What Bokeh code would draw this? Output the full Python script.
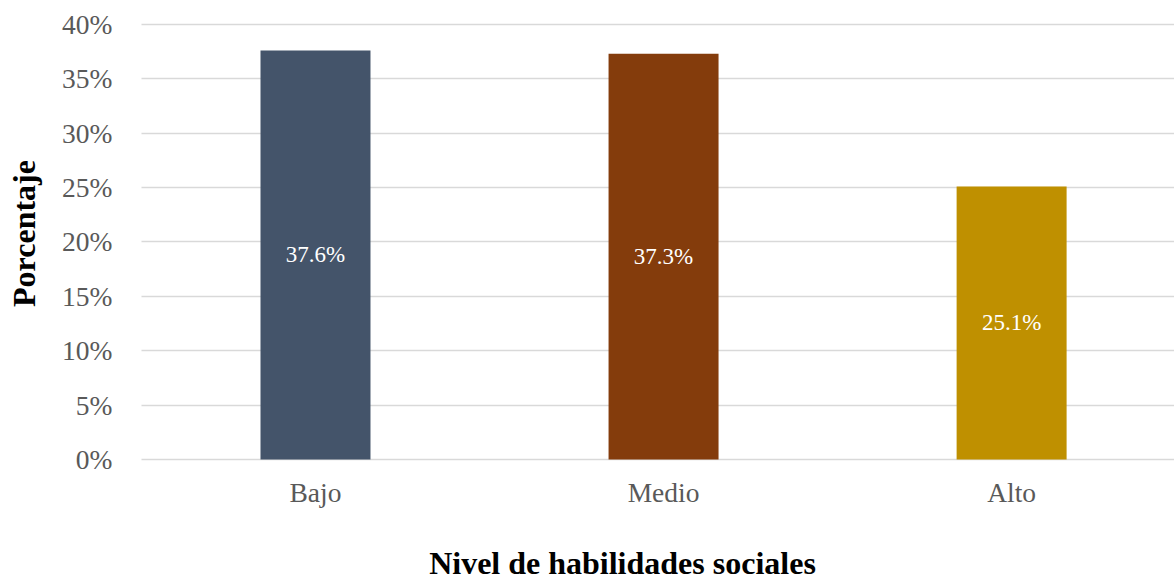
import math
from bokeh.plotting import figure
from bokeh.models import Range1d, FixedTicker, PrintfTickFormatter, Label, Grid, ColumnDataSource
from bokeh.core.properties import value
from bokeh.embed import file_html
from bokeh.resources import INLINE

categories = ["Bajo", "Medio", "Alto"]
percentages = [37.6, 37.3, 25.1]
colors = ["#44546A", "#843C0C", "#BF9000"]
labels = ["37.6%", "37.3%", "25.1%"]
y_ticks = [0, 5, 10, 15, 20, 25, 30, 35, 40]
x_title = "Nivel de habilidades sociales"
y_title = "Porcentaje"

FONT = "Liberation Serif"
X_END = 2.968

xpos = [i + 0.5 for i in range(len(categories))]
src = ColumnDataSource(dict(x=xpos, top=percentages, mid=[v / 2 for v in percentages],
                            color=colors, label=labels))

# the frame covers the whole canvas; axes are pinned at x=0 / y=0 inside it
p = figure(width=1174, height=579, output_backend="svg", toolbar_location=None,
           x_range=Range1d(-0.405, X_END), y_range=Range1d(-11.04, 42.2),
           min_border_left=0, min_border_right=0, min_border_top=0, min_border_bottom=0)
p.outline_line_color = None
p.background_fill_color = "white"
p.border_fill_color = "white"

# grid lines from the plot's left edge (x=0) to the right
p.xgrid.grid_line_color = None
if "cross_bounds" in Grid.properties():
    p.ygrid.cross_bounds = (0, X_END)
    p.ygrid.grid_line_color = "#D9D9D9"
    p.ygrid.grid_line_width = 1.5
else:
    p.ygrid.grid_line_color = None
    p.segment(x0=0, x1=X_END, y0=y_ticks, y1=y_ticks, line_color="#D9D9D9", line_width=1.5)

p.vbar(x="x", top="top", bottom=0, width=0.316, color="color", line_color=None, source=src)
p.text(x="x", y="mid", text="label", source=src, text_color="white",
       text_font=value(FONT), text_font_size="23px", text_align="center", text_baseline="middle")

# axes
p.xaxis.ticker = FixedTicker(ticks=xpos)
p.xaxis.major_label_overrides = {x: c for x, c in zip(xpos, categories)}
p.xaxis.fixed_location = 0
p.yaxis.ticker = FixedTicker(ticks=y_ticks)
p.yaxis.formatter = PrintfTickFormatter(format="%d%%")
p.yaxis.fixed_location = 0
for ax in (p.xaxis, p.yaxis):
    ax.axis_line_color = None
    ax.major_tick_line_color = None
    ax.minor_tick_line_color = None
    ax.major_tick_out = 0
    ax.major_tick_in = 0
    ax.major_label_text_font = FONT
    ax.major_label_text_font_size = "27.5px"
    ax.major_label_text_color = "#595959"
p.xaxis.major_label_standoff = 18
p.yaxis.major_label_standoff = 29

y_label = Label(x=23, y=346, x_units="screen", y_units="screen", text=y_title, angle=math.pi / 2,
                text_font=FONT, text_font_size="32px", text_font_style="bold",
                text_color="black", text_align="center", text_baseline="middle")
p.add_layout(y_label)

x_label = Label(x=622, y=17, x_units="screen", y_units="screen", text=x_title,
                text_font=FONT, text_font_size="32px", text_font_style="bold",
                text_color="black", text_align="center", text_baseline="alphabetic")
p.add_layout(x_label)

open("out.html", "w").write(file_html(p, INLINE))
